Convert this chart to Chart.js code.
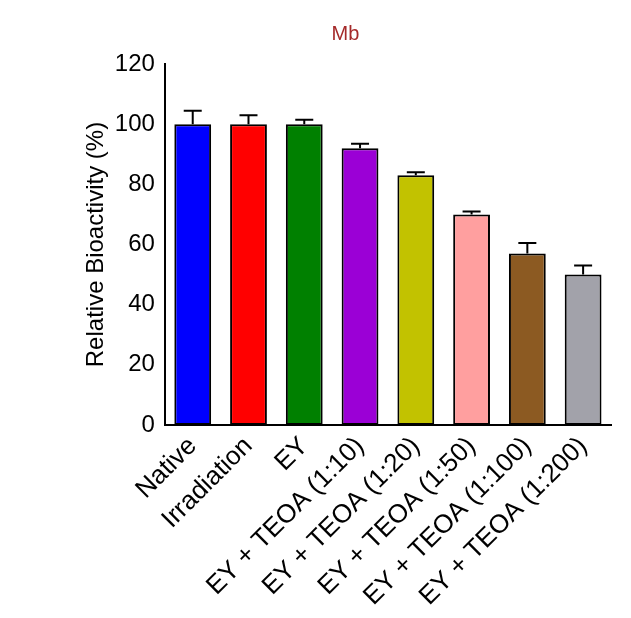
<!DOCTYPE html>
<html><head><meta charset="utf-8">
<script src="https://cdn.jsdelivr.net/npm/chart.js@4"></script>
<style>html,body{margin:0;background:#fff}#w{width:631px;height:618px}</style>
</head><body><div id="w"><canvas id="c"></canvas></div>
<script>
const categories=["Native","Irradiation","EY","EY + TEOA (1:10)","EY + TEOA (1:20)","EY + TEOA (1:50)","EY + TEOA (1:100)","EY + TEOA (1:200)"];
const values=[100,100,100,92,83,70,57,50];
const errors=[4.5,3,1.5,1.5,1,1,3.5,3];
const colors=["#0000ff","#ff0000","#008000","#9b00d6","#c2c200","#ff9f9f","#8c5a22","#a2a2aa"];
const yTicks=[0,20,40,60,80,100,120];

const errPlugin={id:'err',afterDatasetsDraw(ch){
  const ctx=ch.ctx,ys=ch.scales.y,meta=ch.getDatasetMeta(0);
  ctx.save();ctx.strokeStyle='#000';ctx.lineWidth=2;
  meta.data.forEach((b,i)=>{
    const top=ys.getPixelForValue(values[i]+errors[i]),base=ys.getPixelForValue(values[i]);
    ctx.beginPath();ctx.moveTo(b.x,base);ctx.lineTo(b.x,top);
    ctx.moveTo(b.x-9,top);ctx.lineTo(b.x+9,top);ctx.stroke();
  });ctx.restore();}};

new Chart(document.getElementById('c'),{
  type:'bar',
  data:{labels:categories,datasets:[{data:values,backgroundColor:colors,borderColor:'#000',borderWidth:2,borderSkipped:false,barPercentage:0.66,categoryPercentage:1}]},
  options:{responsive:true,maintainAspectRatio:false,animation:false,
    layout:{padding:{left:80,right:20,top:0,bottom:0}},
    plugins:{legend:{display:false},tooltip:{enabled:false},
      title:{display:true,text:'Mb',color:'#a52a2a',font:{family:'Liberation Sans',size:20,weight:'normal'},padding:{top:22,bottom:18}}},
    scales:{
      x:{grid:{display:false,drawTicks:false},border:{color:'#000',width:2},
        ticks:{color:'#000',maxRotation:45,minRotation:45,font:{family:'Liberation Sans',size:26},padding:6,autoSkip:false}},
      y:{min:0,max:120,afterBuildTicks:a=>{a.ticks=yTicks.map(v=>({value:v}));},
        grid:{display:false,drawTicks:true,tickLength:8,tickColor:'#000',tickWidth:2},border:{color:'#000',width:2},
        ticks:{color:'#000',font:{family:'Liberation Sans',size:24},padding:2},
        title:{display:true,text:'Relative Bioactivity (%)',color:'#000',font:{family:'Liberation Sans',size:24},padding:2}}
    }},
  plugins:[errPlugin]
});
</script></body></html>
